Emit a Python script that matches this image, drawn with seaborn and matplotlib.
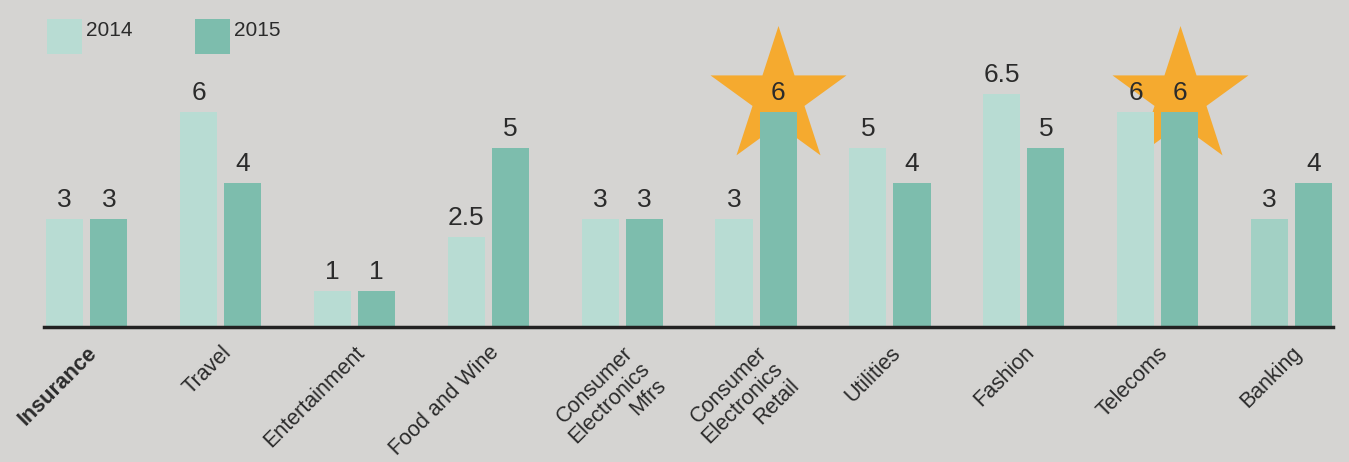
import matplotlib
matplotlib.use("Agg")
import matplotlib.pyplot as plt
from matplotlib.patches import Rectangle
import seaborn as sns
import pandas as pd

categories = ["Insurance", "Travel", "Entertainment", "Food and Wine",
              "Consumer\nElectronics\nMfrs", "Consumer\nElectronics\nRetail",
              "Utilities", "Fashion", "Telecoms", "Banking"]
values_2014 = [3, 6, 1, 2.5, 3, 3, 5, 6.5, 6, 3]
values_2015 = [3, 4, 1, 5, 3, 6, 4, 5, 6, 4]
series = ["2014", "2015"]
value_labels_2014 = ["3", "6", "1", "2.5", "3", "3", "5", "6.5", "6", "3"]
value_labels_2015 = ["3", "4", "1", "5", "3", "6", "4", "5", "6", "4"]
starred = ["Consumer\nElectronics\nRetail", "Telecoms"]

BG = "#d5d4d2"
C14 = "#b8dcd3"
C15 = "#7dbdad"
C14_BANK = "#a2d0c4"
ORANGE = "#f5aa2f"
TXT = "#2b2b2b"

sns.set_theme(style="white")
plt.rcParams["font.family"] = ["Liberation Sans", "DejaVu Sans"]

df = pd.DataFrame({
    "category": categories * 2,
    "year": [series[0]] * len(categories) + [series[1]] * len(categories),
    "value": values_2014 + values_2015,
})

W, H = 1349, 462
fig = plt.figure(figsize=(W / 100, H / 100), dpi=100, facecolor=BG)
px = 35.9  # pixels per unit
ax = fig.add_axes([44 / W, 135 / H, (1333 - 44) / W, 327 / H])
ax.set_facecolor(BG)

sns.barplot(data=df, x="category", y="value", hue="year", order=categories,
            hue_order=series, palette=[C14, C15], saturation=1,
            width=0.66, gap=0.16, ax=ax, legend=False, zorder=3, linewidth=0)

containers = ax.containers
containers[0].patches[-1].set_facecolor(C14_BANK)

# value labels
for cont, labs in zip(containers, [value_labels_2014, value_labels_2015]):
    for patch, lab in zip(cont.patches, labs):
        cx = patch.get_x() + patch.get_width() / 2
        ax.annotate(lab, (cx, patch.get_height()), xytext=(0, 5),
                    textcoords="offset points", ha="center", va="bottom",
                    fontsize=19, color=TXT, zorder=6)

# stars behind the 2015 bars of highlighted categories
bars15 = containers[1].patches
for cat in starred:
    i = categories.index(cat)
    p = bars15[i]
    ax.scatter([p.get_x() + p.get_width() / 2], [p.get_height() + 0.42],
               marker="*", s=10600, color=ORANGE, linewidths=0, zorder=2)

ax.set_xlim(-0.32, len(categories) - 1 + 0.31)
ax.set_ylim(0, 327 / px)

for s in ["top", "right", "left"]:
    ax.spines[s].set_visible(False)
ax.spines["bottom"].set_color("#222222")
ax.spines["bottom"].set_linewidth(2.5)
ax.spines["bottom"].set_zorder(5)
ax.set_yticks([])
ax.set_xlabel("")
ax.set_ylabel("")

ax.set_xticks(range(len(categories)))
ax.set_xticklabels(categories, rotation=45, ha="right", va="top",
                   rotation_mode="anchor", fontsize=15.5, color=TXT,
                   linespacing=1.15)
ax.tick_params(axis="x", length=0, pad=11)
ax.get_xticklabels()[0].set_fontweight("bold")

# legend
for j, (lab, col) in enumerate(zip(series, [C14, C15])):
    x0 = (47 + 148 * j) / W
    fig.patches.append(Rectangle((x0, 1 - 54 / H), 35 / W, 35 / H,
                                 transform=fig.transFigure, facecolor=col,
                                 edgecolor="none"))
    fig.text(x0 + 39 / W, 1 - 31 / H, lab, fontsize=15, color=TXT,
             va="center", ha="left")

fig.savefig("out.png", dpi=100, facecolor=BG)
